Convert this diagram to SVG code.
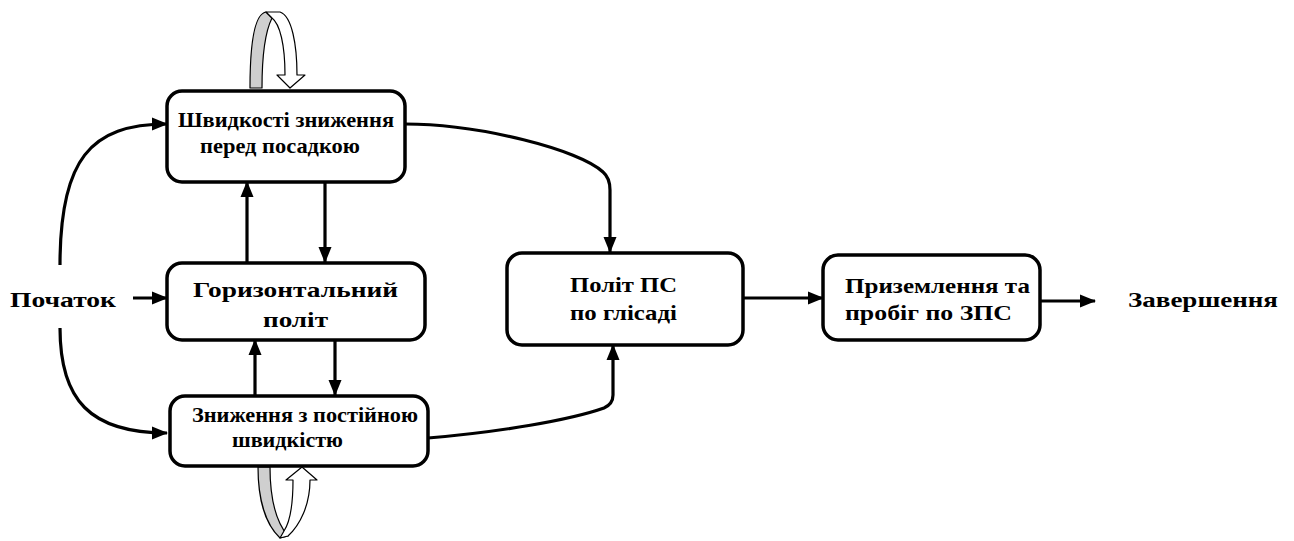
<svg xmlns="http://www.w3.org/2000/svg" width="1294" height="541" viewBox="0 0 1294 541">
<defs>
<marker id="ah" markerUnits="userSpaceOnUse" markerWidth="16" markerHeight="16" viewBox="0 0 16 16" refX="15" refY="8" orient="auto">
<path d="M0,1.5 L16,8 L0,14.5 Z" fill="#000"/>
</marker>
</defs>
<style>
.box{fill:#fff;stroke:#000;stroke-width:3.5}
.c{fill:none;stroke:#000;stroke-width:3.2;marker-end:url(#ah)}
.t{font-family:"Liberation Serif","DejaVu Serif",serif;font-weight:bold;font-size:22px;fill:#000}
.gray{fill:#cfcfcf;stroke:#000;stroke-width:1.2;stroke-linejoin:round}
.wh{fill:#fff;stroke:#000;stroke-width:1.2;stroke-linejoin:round}
</style>
<rect width="1294" height="541" fill="#fff"/>

<g id="connectors">
<path class="c" d="M60,265 C60,160 90,124 167,124"/>
<path class="c" d="M60,328 C60,400 90,433 167,433"/>
<path class="c" d="M133,298 L167,298"/>
<path class="c" d="M247,262 L247,182"/>
<path class="c" d="M325,182 L325,262"/>
<path class="c" d="M255,395 L255,340"/>
<path class="c" d="M335,340 L335,395"/>
<path class="c" d="M405,124 C480,124 580,150 603,172 Q610,178 610,190 L610,252"/>
<path class="c" d="M428,438 C500,432 570,420 604,408 Q613,404 613,395 L613,345"/>
<path class="c" d="M743,298 L823,298"/>
<path class="c" d="M1040,301 L1095,301"/>
</g>

<g id="loop-top">
<path class="gray" d="M250,88 C250,45 254,14 266,12 L272,18 C266,30 262,55 262,88 Z"/>
<path class="wh" d="M266,12 L280,12 C292,16 297,45 297,75 L305,75 L290,88 L277,75 L285,75 C285,45 280,24 272,18 Z"/>
</g>
<g id="loop-bottom">
<path class="gray" d="M258,467 L270,467 C270,500 276,522 288,536 L280,538 C266,525 258,500 258,467 Z"/>
<path class="wh" d="M280,538 L288,536 C300,525 310,505 310,480 L317,480 L302,467 L286,480 L293,480 C293,505 290,522 284,531 Z"/>
</g>

<g id="start"><text class="t" x="10" y="307" lengthAdjust="spacingAndGlyphs" textLength="106">Початок</text></g>

<g id="n1">
<rect class="box" x="167" y="91" width="238" height="91" rx="15"/>
<text class="t" x="178" y="127" lengthAdjust="spacingAndGlyphs" textLength="216">Швидкості зниження</text>
<text class="t" x="200" y="153" lengthAdjust="spacingAndGlyphs" textLength="160">перед посадкою</text>
</g>
<g id="n2">
<rect class="box" x="167" y="263" width="258" height="77" rx="15"/>
<text class="t" x="193" y="297" lengthAdjust="spacingAndGlyphs" textLength="205">Горизонтальний</text>
<text class="t" x="263" y="327" lengthAdjust="spacingAndGlyphs" textLength="65">політ</text>
</g>
<g id="n3">
<rect class="box" x="170" y="396" width="258" height="70" rx="15"/>
<text class="t" x="192" y="422" lengthAdjust="spacingAndGlyphs" textLength="226">Зниження з постійною</text>
<text class="t" x="232" y="447" lengthAdjust="spacingAndGlyphs" textLength="111">швидкістю</text>
</g>
<g id="n4">
<rect class="box" x="507" y="253" width="236" height="92" rx="15"/>
<text class="t" x="570" y="292" lengthAdjust="spacingAndGlyphs" textLength="107">Політ ПС</text>
<text class="t" x="570" y="320" lengthAdjust="spacingAndGlyphs" textLength="107">по глісаді</text>
</g>
<g id="n5">
<rect class="box" x="823" y="255" width="217" height="85" rx="15"/>
<text class="t" x="845" y="293" lengthAdjust="spacingAndGlyphs" textLength="185">Приземлення та</text>
<text class="t" x="845" y="320" lengthAdjust="spacingAndGlyphs" textLength="167">пробіг по ЗПС</text>
</g>
<g id="end"><text class="t" x="1128" y="307" lengthAdjust="spacingAndGlyphs" textLength="150">Завершення</text></g>
</svg>
